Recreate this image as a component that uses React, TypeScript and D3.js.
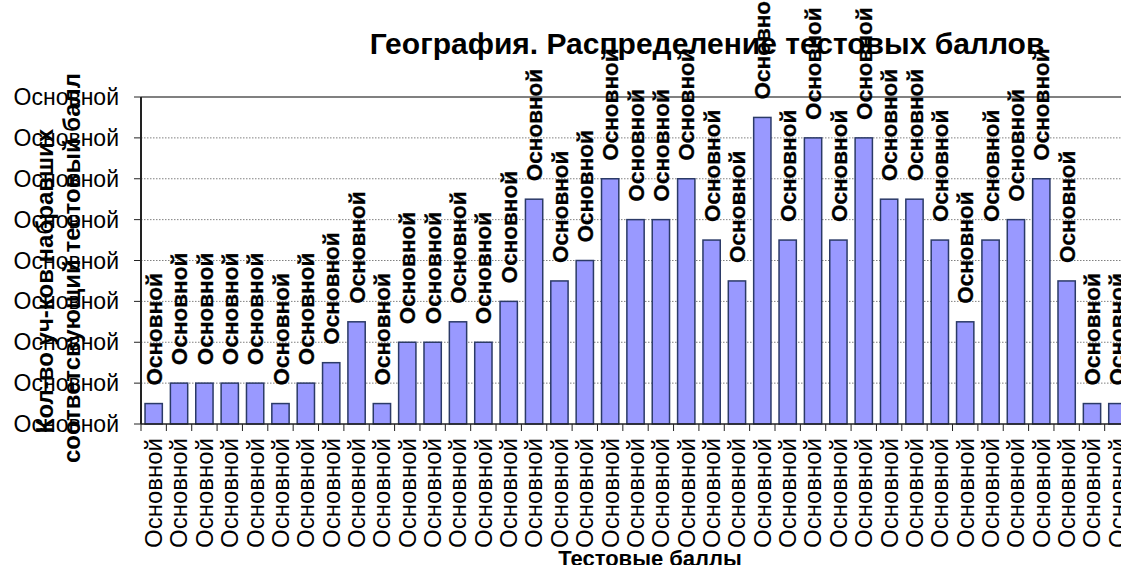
import * as d3 from 'd3';
import React from 'react';

// number of participants per test score (scores themselves render as "Основной")
const counts = [1, 2, 2, 2, 2, 1, 2, 3, 5, 1, 4, 4, 5, 4, 6, 11, 7, 8, 12, 10, 10, 12, 9, 7, 15, 9, 14, 9, 14, 11, 11, 9, 5, 9, 10, 12, 7, 1, 1];
const categories = counts.map((_, i) => `c${i}`);
const tickLabel = 'Основной';
const yTicks = [0, 2, 4, 6, 8, 10, 12, 14, 16];

const title = 'География. Распределение тестовых баллов';
const xTitle = 'Тестовые баллы';
const yTitle = ['Кол-во уч-ков набравших', 'соответсвующий тестовый балл'];

const width = 1121;
const height = 565;
const font = '"Liberation Sans", Arial, sans-serif';

const App = () => {
  const left = 141;
  const step = 25.36;
  const top = 97;
  const bottom = 424;

  const x = d3.scaleBand<string>()
    .domain(categories)
    .range([left, left + step * categories.length])
    .paddingInner(0.318)
    .paddingOuter(0.159);

  const y = d3.scaleLinear().domain([0, 16]).range([bottom, top]);

  const bw = x.bandwidth();
  const yTitleCenters = [281, 268];

  return (
    <svg width={width} height={height} style={{ position: 'absolute', left: 0, top: 0 }} fontFamily={font}>
      <rect width={width} height={height} fill="#fff" />

      {/* gridlines */}
      {yTicks.slice(1, -1).map(t => (
        <line key={t} x1={left} x2={width} y1={y(t)} y2={y(t)} stroke="#808080" strokeWidth={1} strokeDasharray="1.5,1.5" />
      ))}
      <line x1={left} x2={width} y1={top} y2={top} stroke="#808080" strokeWidth={2} />

      {/* bars */}
      {counts.map((v, i) => (
        <rect key={i} x={x(categories[i])!} y={y(v)} width={bw} height={y(0) - y(v)}
          fill="#9999FF" stroke="#2B3A67" strokeWidth={1.5} />
      ))}

      {/* axes */}
      <line x1={left} x2={left} y1={top} y2={bottom} stroke="#222" strokeWidth={2} />
      <line x1={left} x2={width} y1={bottom} y2={bottom} stroke="#222" strokeWidth={1.5} />
      {yTicks.map(t => (
        <line key={t} x1={left - 7} x2={left} y1={y(t)} y2={y(t)} stroke="#222" strokeWidth={1} />
      ))}
      {categories.map((c, i) => (
        <line key={c} x1={left + i * x.step()} x2={left + i * x.step()} y1={bottom} y2={bottom + 7} stroke="#222" strokeWidth={1} />
      ))}

      {/* y tick labels */}
      {yTicks.map(t => (
        <text key={t} x={119} y={y(t)} dy="0.35em" textAnchor="end" fontSize={23}>{tickLabel}</text>
      ))}

      {/* x tick labels */}
      {categories.map(c => {
        const cx = x(c)! + bw / 2;
        return (
          <text key={c} transform={`translate(${cx},${bottom + 14}) rotate(-90)`} dy="0.35em" textAnchor="end" fontSize={24}>{tickLabel}</text>
        );
      })}

      {/* data labels */}
      {counts.map((v, i) => {
        const cx = x(categories[i])! + bw / 2;
        return (
          <text key={i} transform={`translate(${cx},${y(v) - 18}) rotate(-90)`} dy="0.36em" textAnchor="start"
            fontSize={22.5} fontWeight="bold" stroke="#000" strokeWidth={0.3}>{tickLabel}</text>
        );
      })}

      {/* titles */}
      <text x={707} y={54} textAnchor="middle" fontSize={30} fontWeight="bold">{title}</text>
      <text x={650} y={566} textAnchor="middle" fontSize={22} fontWeight="bold">{xTitle}</text>
      {yTitle.map((t, i) => (
        <text key={t} transform={`translate(${53 + i * 27},${yTitleCenters[i]}) rotate(-90)`} textAnchor="middle" fontSize={24} fontWeight="bold">{t}</text>
      ))}
    </svg>
  );
};

export default App;
